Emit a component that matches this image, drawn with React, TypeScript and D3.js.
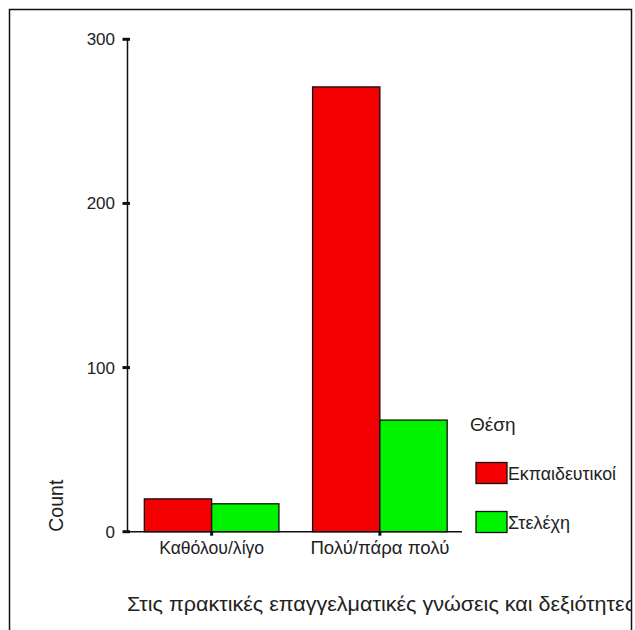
import React from "react";
import * as d3 from "d3";

const categories = ["Καθόλου/λίγο", "Πολύ/πάρα πολύ"];
const seriesNames = ["Εκπαιδευτικοί", "Στελέχη"];
const teachers = [20, 271];
const executives = [17, 68];
const yTicks = [0, 100, 200, 300];
const colors = ["#f40000", "#00f400"];
const legendTitle = "Θέση";
const yTitle = "Count";
const xTitle = "Στις πρακτικές επαγγελματικές γνώσεις και δεξιότητες";

export default function App() {
  const W = 635, H = 630;
  const font = "Arial, 'Liberation Sans', sans-serif";
  const x = d3.scaleBand<string>().domain(categories).range([127.5, 464]).paddingInner(0.2).paddingOuter(0.1);
  const sub = d3.scaleBand<string>().domain(seriesNames).range([0, x.bandwidth()]);
  const y = d3.scaleLinear().domain([0, 300]).range([531.7, 39.3]);
  const series = [teachers, executives];
  const axisX = 127.5;
  const y0 = y(0);
  return (
    <svg width={W} height={H} style={{ position: "absolute", left: 0, top: 0 }} fontFamily={font}>
      <defs>
        <clipPath id="frameClip">
          <rect x={9} y={9} width={623} height={640} />
        </clipPath>
      </defs>
      <rect x={0} y={0} width={W} height={H} fill="#fff" />
      <rect x={9.5} y={9.5} width={622} height={640} fill="none" stroke="#111" strokeWidth={1.5} />
      {/* bars */}
      {categories.map((c, i) =>
        seriesNames.map((s, j) => {
          const v = series[j][i];
          return (
            <rect
              key={c + s}
              x={(x(c) as number) + (sub(s) as number)}
              y={y(v)}
              width={sub.bandwidth()}
              height={y0 - y(v)}
              fill={colors[j]}
              stroke="#111"
              strokeWidth={1.3}
            />
          );
        })
      )}
      {/* y axis */}
      <line x1={axisX} x2={axisX} y1={y(300)} y2={y0} stroke="#111" strokeWidth={1.5} />
      {yTicks.map((t) => (
        <g key={t}>
          <line x1={axisX - 5} x2={axisX + 2.5} y1={y(t)} y2={y(t)} stroke="#111" strokeWidth={3} />
          <text x={115} y={y(t)} dy="0.35em" textAnchor="end" fontSize={17} fill="#222">
            {t}
          </text>
        </g>
      ))}
      {/* x axis */}
      <line x1={axisX} x2={462} y1={y0} y2={y0} stroke="#111" strokeWidth={1.5} />
      {categories.map((c, i) => {
        const cx = (x(c) as number) + x.bandwidth() / 2;
        return (
          <g key={c}>
            <line x1={cx} x2={cx} y1={y0} y2={y0 + 4} stroke="#111" strokeWidth={3} />
            <text
              x={cx}
              y={554}
              textAnchor="middle"
              fontSize={17.5}
              fill="#222"
              textLength={i === 0 ? 105 : 139}
              lengthAdjust="spacingAndGlyphs"
            >
              {c}
            </text>
          </g>
        );
      })}
      {/* axis titles */}
      <text transform={`translate(63, ${y0}) rotate(-90)`} fontSize={19.5} fill="#222" textLength={52} lengthAdjust="spacingAndGlyphs">
        {yTitle}
      </text>
      <g clipPath="url(#frameClip)">
        <text x={127} y={611} fontSize={20} fill="#222" textLength={508} lengthAdjust="spacingAndGlyphs">
          {xTitle}
        </text>
      </g>
      {/* legend */}
      <text x={470} y={431} fontSize={19} fill="#222">
        {legendTitle}
      </text>
      {seriesNames.map((s, j) => (
        <g key={s} transform={`translate(476, ${462.5 + j * 49})`}>
          <rect x={0} y={0} width={31} height={21} fill={colors[j]} stroke="#111" strokeWidth={1.3} />
          <text x={32} y={17.5} fontSize={17.5} fill="#222" textLength={j === 0 ? 108 : 62} lengthAdjust="spacingAndGlyphs">
            {s}
          </text>
        </g>
      ))}
    </svg>
  );
}
